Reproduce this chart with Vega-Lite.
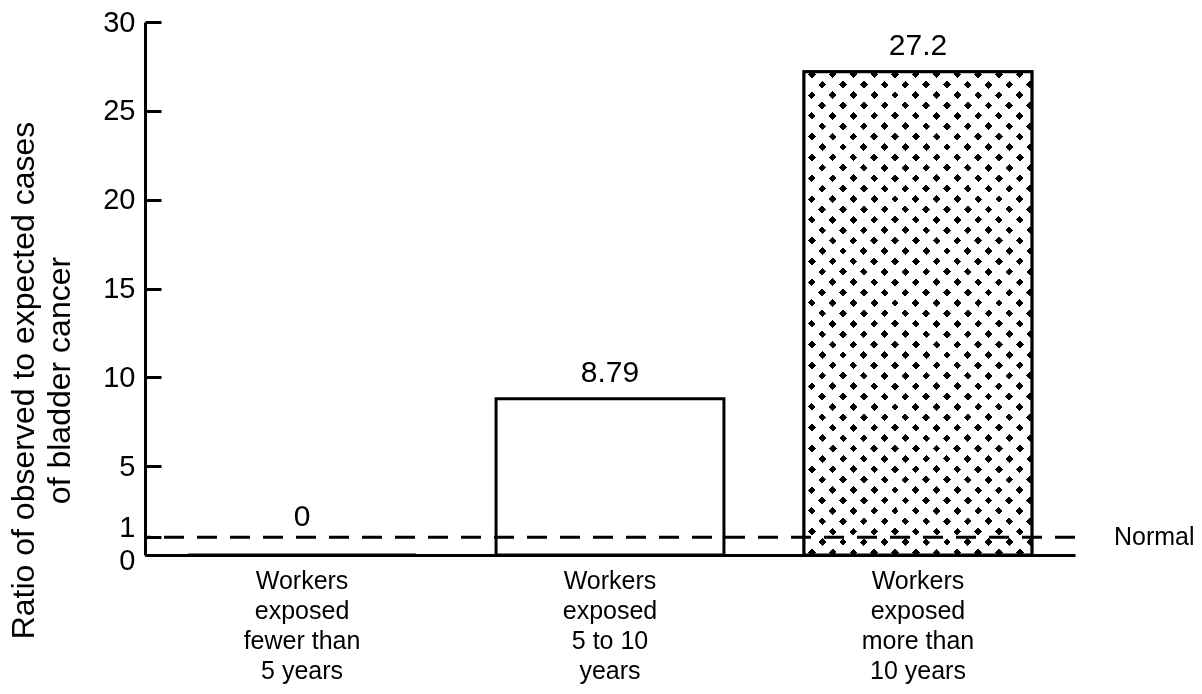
{
  "$schema": "https://vega.github.io/schema/vega-lite/v6.json",
  "width": 930,
  "height": 533,
  "autosize": {"type": "none"},
  "padding": {"left": 145, "top": 22, "right": 127, "bottom": 139},
  "background": "white",
  "config": {"view": {"stroke": null}, "font": "Liberation Sans", "axis": {"grid": false}},
  "data": {"values": [
    {"exposure": "Workers\nexposed\nfewer than\n5 years", "ratio": 0},
    {"exposure": "Workers\nexposed\n5 to 10\nyears", "ratio": 8.79},
    {"exposure": "Workers\nexposed\nmore than\n10 years", "ratio": 27.2}
  ]},
  "layer": [
    {
      "mark": {"type": "bar", "fill": "white", "stroke": "black", "strokeWidth": 3},
      "encoding": {
        "x": {"field": "exposure", "type": "nominal", "sort": null,
          "scale": {"paddingInner": 0.26, "paddingOuter": 0.14},
          "axis": {"title": null, "labelExpr": "split(datum.label, '\\n')", "labelAngle": 0, "labelFontSize": 25, "labelLineHeight": 30, "labelPadding": 13, "labelBaseline": "top", "ticks": false, "domainColor": "black", "domainWidth": 3, "labelColor": "black", "labelLimit": 0, "labelOverlap": false}},
        "y": {"field": "ratio", "type": "quantitative", "scale": {"domain": [0, 30]},
          "axis": {"title": ["Ratio of observed to expected cases", "of bladder cancer"], "values": [0, 1, 5, 10, 15, 20, 25, 30], "labelOverlap": false, "tickSize": -16, "tickWidth": 3, "tickColor": "black", "domainColor": "black", "domainWidth": 3, "labelFontSize": 29, "labelPadding": 26, "labelColor": "black",
            "labelOffset": {"condition": [{"test": "datum.value == 1", "value": -10}, {"test": "datum.value == 0", "value": 5}], "value": 0},
            "titleFontSize": 32, "titleFontWeight": "normal", "titleColor": "black", "titleLineHeight": 36, "titleX": -112, "titleY": 358, "titleAngle": -90, "titleAlign": "center", "titleBaseline": "alphabetic"}}
      }
    },
    {
      "transform": [{"filter": "indexof(datum.exposure, 'more than') >= 0"}],
      "mark": {"type": "bar", "stroke": "black", "strokeWidth": 3,
        "fill": {"gradient": "linear", "x1": 0, "y1": 0, "x2": 1, "y2": 2.12, "stops": [
{"offset":0.0052,"color":"#fff"},{"offset":0.0052,"color":"#000"},{"offset":0.0114,"color":"#000"},{"offset":0.0114,"color":"#fff"},
{"offset":0.0218,"color":"#fff"},{"offset":0.0218,"color":"#000"},{"offset":0.0280,"color":"#000"},{"offset":0.0280,"color":"#fff"},
{"offset":0.0384,"color":"#fff"},{"offset":0.0384,"color":"#000"},{"offset":0.0446,"color":"#000"},{"offset":0.0446,"color":"#fff"},
{"offset":0.0550,"color":"#fff"},{"offset":0.0550,"color":"#000"},{"offset":0.0612,"color":"#000"},{"offset":0.0612,"color":"#fff"},
{"offset":0.0716,"color":"#fff"},{"offset":0.0716,"color":"#000"},{"offset":0.0778,"color":"#000"},{"offset":0.0778,"color":"#fff"},
{"offset":0.0882,"color":"#fff"},{"offset":0.0882,"color":"#000"},{"offset":0.0944,"color":"#000"},{"offset":0.0944,"color":"#fff"},
{"offset":0.1048,"color":"#fff"},{"offset":0.1048,"color":"#000"},{"offset":0.1110,"color":"#000"},{"offset":0.1110,"color":"#fff"},
{"offset":0.1214,"color":"#fff"},{"offset":0.1214,"color":"#000"},{"offset":0.1276,"color":"#000"},{"offset":0.1276,"color":"#fff"},
{"offset":0.1380,"color":"#fff"},{"offset":0.1380,"color":"#000"},{"offset":0.1442,"color":"#000"},{"offset":0.1442,"color":"#fff"},
{"offset":0.1546,"color":"#fff"},{"offset":0.1546,"color":"#000"},{"offset":0.1608,"color":"#000"},{"offset":0.1608,"color":"#fff"},
{"offset":0.1712,"color":"#fff"},{"offset":0.1712,"color":"#000"},{"offset":0.1774,"color":"#000"},{"offset":0.1774,"color":"#fff"},
{"offset":0.1878,"color":"#fff"},{"offset":0.1878,"color":"#000"},{"offset":0.1940,"color":"#000"},{"offset":0.1940,"color":"#fff"},
{"offset":0.2044,"color":"#fff"},{"offset":0.2044,"color":"#000"},{"offset":0.2106,"color":"#000"},{"offset":0.2106,"color":"#fff"},
{"offset":0.2210,"color":"#fff"},{"offset":0.2210,"color":"#000"},{"offset":0.2272,"color":"#000"},{"offset":0.2272,"color":"#fff"},
{"offset":0.2376,"color":"#fff"},{"offset":0.2376,"color":"#000"},{"offset":0.2438,"color":"#000"},{"offset":0.2438,"color":"#fff"},
{"offset":0.2542,"color":"#fff"},{"offset":0.2542,"color":"#000"},{"offset":0.2604,"color":"#000"},{"offset":0.2604,"color":"#fff"},
{"offset":0.2708,"color":"#fff"},{"offset":0.2708,"color":"#000"},{"offset":0.2770,"color":"#000"},{"offset":0.2770,"color":"#fff"},
{"offset":0.2874,"color":"#fff"},{"offset":0.2874,"color":"#000"},{"offset":0.2936,"color":"#000"},{"offset":0.2936,"color":"#fff"},
{"offset":0.3040,"color":"#fff"},{"offset":0.3040,"color":"#000"},{"offset":0.3102,"color":"#000"},{"offset":0.3102,"color":"#fff"},
{"offset":0.3206,"color":"#fff"},{"offset":0.3206,"color":"#000"},{"offset":0.3268,"color":"#000"},{"offset":0.3268,"color":"#fff"},
{"offset":0.3372,"color":"#fff"},{"offset":0.3372,"color":"#000"},{"offset":0.3434,"color":"#000"},{"offset":0.3434,"color":"#fff"},
{"offset":0.3538,"color":"#fff"},{"offset":0.3538,"color":"#000"},{"offset":0.3600,"color":"#000"},{"offset":0.3600,"color":"#fff"},
{"offset":0.3704,"color":"#fff"},{"offset":0.3704,"color":"#000"},{"offset":0.3766,"color":"#000"},{"offset":0.3766,"color":"#fff"},
{"offset":0.3870,"color":"#fff"},{"offset":0.3870,"color":"#000"},{"offset":0.3932,"color":"#000"},{"offset":0.3932,"color":"#fff"},
{"offset":0.4036,"color":"#fff"},{"offset":0.4036,"color":"#000"},{"offset":0.4098,"color":"#000"},{"offset":0.4098,"color":"#fff"},
{"offset":0.4202,"color":"#fff"},{"offset":0.4202,"color":"#000"},{"offset":0.4264,"color":"#000"},{"offset":0.4264,"color":"#fff"},
{"offset":0.4368,"color":"#fff"},{"offset":0.4368,"color":"#000"},{"offset":0.4430,"color":"#000"},{"offset":0.4430,"color":"#fff"},
{"offset":0.4534,"color":"#fff"},{"offset":0.4534,"color":"#000"},{"offset":0.4596,"color":"#000"},{"offset":0.4596,"color":"#fff"},
{"offset":0.4700,"color":"#fff"},{"offset":0.4700,"color":"#000"},{"offset":0.4762,"color":"#000"},{"offset":0.4762,"color":"#fff"},
{"offset":0.4866,"color":"#fff"},{"offset":0.4866,"color":"#000"},{"offset":0.4928,"color":"#000"},{"offset":0.4928,"color":"#fff"},
{"offset":0.5032,"color":"#fff"},{"offset":0.5032,"color":"#000"},{"offset":0.5094,"color":"#000"},{"offset":0.5094,"color":"#fff"},
{"offset":0.5198,"color":"#fff"},{"offset":0.5198,"color":"#000"},{"offset":0.5260,"color":"#000"},{"offset":0.5260,"color":"#fff"},
{"offset":0.5364,"color":"#fff"},{"offset":0.5364,"color":"#000"},{"offset":0.5426,"color":"#000"},{"offset":0.5426,"color":"#fff"},
{"offset":0.5530,"color":"#fff"},{"offset":0.5530,"color":"#000"},{"offset":0.5592,"color":"#000"},{"offset":0.5592,"color":"#fff"},
{"offset":0.5696,"color":"#fff"},{"offset":0.5696,"color":"#000"},{"offset":0.5758,"color":"#000"},{"offset":0.5758,"color":"#fff"}
        ]}},
      "encoding": {
        "x": {"field": "exposure", "type": "nominal", "sort": null},
        "y": {"field": "ratio", "type": "quantitative"}
      }
    },
    {
      "transform": [{"filter": "indexof(datum.exposure, 'more than') >= 0"}],
      "mark": {"type": "bar", "stroke": "black", "strokeWidth": 3, "blend": "lighten",
        "fill": {"gradient": "linear", "x1": 0, "y1": 1, "x2": 1, "y2": -1.12, "stops": [
{"offset":0.0052,"color":"#fff"},{"offset":0.0052,"color":"#000"},{"offset":0.0114,"color":"#000"},{"offset":0.0114,"color":"#fff"},
{"offset":0.0218,"color":"#fff"},{"offset":0.0218,"color":"#000"},{"offset":0.0280,"color":"#000"},{"offset":0.0280,"color":"#fff"},
{"offset":0.0384,"color":"#fff"},{"offset":0.0384,"color":"#000"},{"offset":0.0446,"color":"#000"},{"offset":0.0446,"color":"#fff"},
{"offset":0.0550,"color":"#fff"},{"offset":0.0550,"color":"#000"},{"offset":0.0612,"color":"#000"},{"offset":0.0612,"color":"#fff"},
{"offset":0.0716,"color":"#fff"},{"offset":0.0716,"color":"#000"},{"offset":0.0778,"color":"#000"},{"offset":0.0778,"color":"#fff"},
{"offset":0.0882,"color":"#fff"},{"offset":0.0882,"color":"#000"},{"offset":0.0944,"color":"#000"},{"offset":0.0944,"color":"#fff"},
{"offset":0.1048,"color":"#fff"},{"offset":0.1048,"color":"#000"},{"offset":0.1110,"color":"#000"},{"offset":0.1110,"color":"#fff"},
{"offset":0.1214,"color":"#fff"},{"offset":0.1214,"color":"#000"},{"offset":0.1276,"color":"#000"},{"offset":0.1276,"color":"#fff"},
{"offset":0.1380,"color":"#fff"},{"offset":0.1380,"color":"#000"},{"offset":0.1442,"color":"#000"},{"offset":0.1442,"color":"#fff"},
{"offset":0.1546,"color":"#fff"},{"offset":0.1546,"color":"#000"},{"offset":0.1608,"color":"#000"},{"offset":0.1608,"color":"#fff"},
{"offset":0.1712,"color":"#fff"},{"offset":0.1712,"color":"#000"},{"offset":0.1774,"color":"#000"},{"offset":0.1774,"color":"#fff"},
{"offset":0.1878,"color":"#fff"},{"offset":0.1878,"color":"#000"},{"offset":0.1940,"color":"#000"},{"offset":0.1940,"color":"#fff"},
{"offset":0.2044,"color":"#fff"},{"offset":0.2044,"color":"#000"},{"offset":0.2106,"color":"#000"},{"offset":0.2106,"color":"#fff"},
{"offset":0.2210,"color":"#fff"},{"offset":0.2210,"color":"#000"},{"offset":0.2272,"color":"#000"},{"offset":0.2272,"color":"#fff"},
{"offset":0.2376,"color":"#fff"},{"offset":0.2376,"color":"#000"},{"offset":0.2438,"color":"#000"},{"offset":0.2438,"color":"#fff"},
{"offset":0.2542,"color":"#fff"},{"offset":0.2542,"color":"#000"},{"offset":0.2604,"color":"#000"},{"offset":0.2604,"color":"#fff"},
{"offset":0.2708,"color":"#fff"},{"offset":0.2708,"color":"#000"},{"offset":0.2770,"color":"#000"},{"offset":0.2770,"color":"#fff"},
{"offset":0.2874,"color":"#fff"},{"offset":0.2874,"color":"#000"},{"offset":0.2936,"color":"#000"},{"offset":0.2936,"color":"#fff"},
{"offset":0.3040,"color":"#fff"},{"offset":0.3040,"color":"#000"},{"offset":0.3102,"color":"#000"},{"offset":0.3102,"color":"#fff"},
{"offset":0.3206,"color":"#fff"},{"offset":0.3206,"color":"#000"},{"offset":0.3268,"color":"#000"},{"offset":0.3268,"color":"#fff"},
{"offset":0.3372,"color":"#fff"},{"offset":0.3372,"color":"#000"},{"offset":0.3434,"color":"#000"},{"offset":0.3434,"color":"#fff"},
{"offset":0.3538,"color":"#fff"},{"offset":0.3538,"color":"#000"},{"offset":0.3600,"color":"#000"},{"offset":0.3600,"color":"#fff"},
{"offset":0.3704,"color":"#fff"},{"offset":0.3704,"color":"#000"},{"offset":0.3766,"color":"#000"},{"offset":0.3766,"color":"#fff"},
{"offset":0.3870,"color":"#fff"},{"offset":0.3870,"color":"#000"},{"offset":0.3932,"color":"#000"},{"offset":0.3932,"color":"#fff"},
{"offset":0.4036,"color":"#fff"},{"offset":0.4036,"color":"#000"},{"offset":0.4098,"color":"#000"},{"offset":0.4098,"color":"#fff"},
{"offset":0.4202,"color":"#fff"},{"offset":0.4202,"color":"#000"},{"offset":0.4264,"color":"#000"},{"offset":0.4264,"color":"#fff"},
{"offset":0.4368,"color":"#fff"},{"offset":0.4368,"color":"#000"},{"offset":0.4430,"color":"#000"},{"offset":0.4430,"color":"#fff"},
{"offset":0.4534,"color":"#fff"},{"offset":0.4534,"color":"#000"},{"offset":0.4596,"color":"#000"},{"offset":0.4596,"color":"#fff"},
{"offset":0.4700,"color":"#fff"},{"offset":0.4700,"color":"#000"},{"offset":0.4762,"color":"#000"},{"offset":0.4762,"color":"#fff"},
{"offset":0.4866,"color":"#fff"},{"offset":0.4866,"color":"#000"},{"offset":0.4928,"color":"#000"},{"offset":0.4928,"color":"#fff"},
{"offset":0.5032,"color":"#fff"},{"offset":0.5032,"color":"#000"},{"offset":0.5094,"color":"#000"},{"offset":0.5094,"color":"#fff"},
{"offset":0.5198,"color":"#fff"},{"offset":0.5198,"color":"#000"},{"offset":0.5260,"color":"#000"},{"offset":0.5260,"color":"#fff"},
{"offset":0.5364,"color":"#fff"},{"offset":0.5364,"color":"#000"},{"offset":0.5426,"color":"#000"},{"offset":0.5426,"color":"#fff"},
{"offset":0.5530,"color":"#fff"},{"offset":0.5530,"color":"#000"},{"offset":0.5592,"color":"#000"},{"offset":0.5592,"color":"#fff"},
{"offset":0.5696,"color":"#fff"},{"offset":0.5696,"color":"#000"},{"offset":0.5758,"color":"#000"},{"offset":0.5758,"color":"#fff"}
        ]}},
      "encoding": {
        "x": {"field": "exposure", "type": "nominal", "sort": null},
        "y": {"field": "ratio", "type": "quantitative"}
      }
    },
    {
      "data": {"values": [{"reference": "Normal", "ratio": 1}]},
      "mark": {"type": "rule", "color": "black", "strokeWidth": 3, "strokeDash": [20, 13]},
      "encoding": {"y": {"field": "ratio", "type": "quantitative"}}
    },
    {
      "transform": [{"filter": "datum.ratio > 0"}],
      "mark": {"type": "text", "fontSize": 30, "baseline": "alphabetic", "dy": -17, "color": "black"},
      "encoding": {
        "x": {"field": "exposure", "type": "nominal", "sort": null},
        "y": {"field": "ratio", "type": "quantitative"},
        "text": {"field": "ratio", "type": "nominal"}
      }
    },
    {
      "transform": [{"filter": "datum.ratio == 0"}],
      "mark": {"type": "text", "fontSize": 30, "baseline": "alphabetic", "dy": -29, "color": "black"},
      "encoding": {
        "x": {"field": "exposure", "type": "nominal", "sort": null},
        "y": {"field": "ratio", "type": "quantitative"},
        "text": {"field": "ratio", "type": "nominal"}
      }
    },
    {
      "data": {"values": [{"reference": "Normal", "ratio": 1}]},
      "mark": {"type": "text", "fontSize": 25, "align": "left", "baseline": "middle", "dx": 39, "color": "black"},
      "encoding": {
        "x": {"value": "width"},
        "y": {"field": "ratio", "type": "quantitative"},
        "text": {"field": "reference", "type": "nominal"}
      }
    }
  ]
}
